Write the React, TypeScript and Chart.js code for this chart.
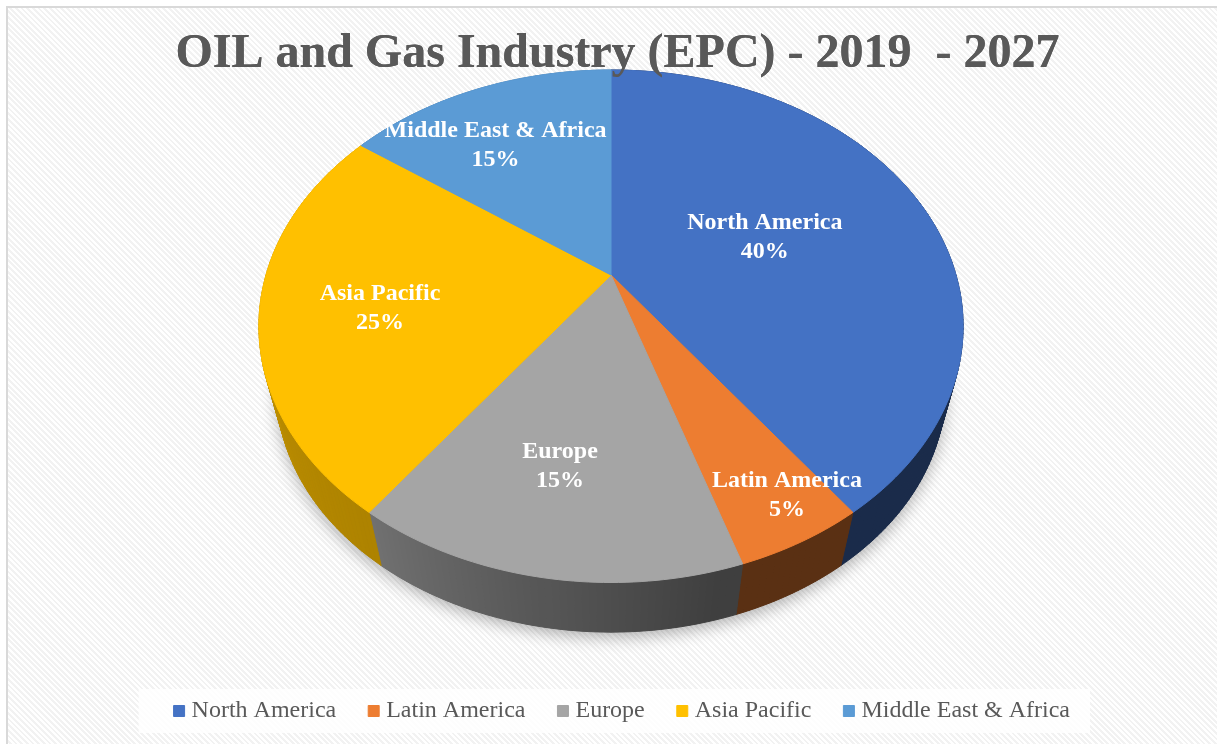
import React, { useEffect, useRef } from "react";
import { Chart, registerables } from "chart.js";

Chart.register(...registerables);

// ---------- data ----------
const categories = ["North America", "Latin America", "Europe", "Asia Pacific", "Middle East & Africa"];
const shareValues = [40, 5, 15, 25, 15];
const sliceColors = ["#4472c4", "#ed7d31", "#a5a5a5", "#ffc000", "#5b9bd5"];
const titleText = "OIL and Gas Industry (EPC) - 2019  - 2027";

// ---------- style / layout ----------
const labelRadius = [0.486, 0.873, 0.684, 0.665, 0.698];
const labelAngleFrac = [0.494, 0.35, 0.533, 0.474, 0.4];
const TILT = 0.2;
const HALF_W = 345;
const HALF_H = 246;
const CX_SHIFT = -6.5;
const WALL_SCALE = 0.95;
const WALL_DROP = 65;
const SERIF = "'Liberation Serif', 'Times New Roman', serif";

function hexToRgb(h: string) {
  const n = parseInt(h.slice(1), 16);
  return [(n >> 16) & 255, (n >> 8) & 255, n & 255];
}
function shade(hex: string, f: number) {
  const [r, g, b] = hexToRgb(hex);
  return `rgb(${Math.round(r * f)},${Math.round(g * f)},${Math.round(b * f)})`;
}
function wallLight(a: number) {
  let t = ((a + Math.PI / 2) * 180) / Math.PI;
  t = ((t % 360) + 360) % 360;
  if (t <= 165) return 0.38;
  if (t <= 216) return 0.38 + ((t - 165) / 51) * 0.3;
  if (t <= 280) return 0.68 + ((t - 216) / 64) * 0.1;
  return 0.78;
}

function geometry(chart: any) {
  const area = chart.chartArea;
  const cx = (area.left + area.right) / 2 + CX_SHIFT;
  const apexY = area.top + HALF_H / (1 + TILT);
  const proj = (u: number, v: number) => {
    const d = 1 - TILT * v;
    return { x: cx + (HALF_W * u) / d, y: apexY + (HALF_H * v) / d };
  };
  const wall = (q: { x: number; y: number }) => ({
    x: cx + (q.x - cx) * WALL_SCALE,
    y: apexY + (q.y - apexY) * WALL_SCALE + WALL_DROP,
  });
  return { proj, wall };
}

const pie3d = {
  id: "pie3d",
  beforeDraw(chart: any) {
    const boxes = chart.legend && chart.legend.legendHitBoxes;
    if (!boxes || !boxes.length) return;
    const ctx = chart.ctx;
    const first = boxes[0];
    const last = boxes[boxes.length - 1];
    ctx.save();
    ctx.fillStyle = "rgba(255,255,255,0.8)";
    const l = first.left - 40;
    const r = last.left + last.width + 20;
    ctx.fillRect(l, first.top - 10, r - l, first.height + 20);
    ctx.restore();
  },
  beforeDatasetsDraw(chart: any) {
    const ctx = chart.ctx;
    const meta = chart.getDatasetMeta(0);
    if (!meta.data.length) return;
    const { proj, wall } = geometry(chart);
    const colors = chart.data.datasets[0].backgroundColor as string[];

    // soft shadow under the pie
    ctx.save();
    ctx.shadowColor = "rgba(0,0,0,0.3)";
    ctx.shadowBlur = 16;
    ctx.shadowOffsetY = 5;
    ctx.fillStyle = "#777";
    ctx.beginPath();
    for (let i = 0; i <= 360; i++) {
      const a = (i * Math.PI) / 180;
      const q = wall(proj(Math.cos(a), Math.sin(a)));
      if (i === 0) ctx.moveTo(q.x, q.y);
      else ctx.lineTo(q.x, q.y);
    }
    ctx.closePath();
    ctx.fill();
    ctx.restore();

    // side walls
    ctx.save();
    ctx.lineWidth = 1;
    meta.data.forEach((el: any, idx: number) => {
      const s = el.startAngle;
      const e = el.endAngle;
      const steps = Math.max(2, Math.ceil((e - s) / (Math.PI / 180)));
      for (let k = 0; k < steps; k++) {
        const a0 = s + ((e - s) * k) / steps;
        const a1 = s + ((e - s) * (k + 1)) / steps;
        const t0 = proj(Math.cos(a0), Math.sin(a0));
        const t1 = proj(Math.cos(a1), Math.sin(a1));
        const b0 = wall(t0);
        const b1 = wall(t1);
        const col = shade(colors[idx], wallLight((a0 + a1) / 2));
        ctx.fillStyle = col;
        ctx.strokeStyle = col;
        ctx.beginPath();
        ctx.moveTo(t0.x, t0.y);
        ctx.lineTo(t1.x, t1.y);
        ctx.lineTo(b1.x, b1.y);
        ctx.lineTo(b0.x, b0.y);
        ctx.closePath();
        ctx.fill();
        ctx.stroke();
      }
    });
    ctx.restore();

    // project the library's own arc drawing onto the tilted disk
    const el0 = meta.data[0];
    const ox = el0.x;
    const oy = el0.y;
    const R = el0.outerRadius;
    const map = (x: number, y: number) => proj((x - ox) / R, (y - oy) / R);
    const P: any = CanvasRenderingContext2D.prototype;
    const c: any = ctx;
    c.moveTo = (x: number, y: number) => {
      const q = map(x, y);
      P.moveTo.call(ctx, q.x, q.y);
    };
    c.lineTo = (x: number, y: number) => {
      const q = map(x, y);
      P.lineTo.call(ctx, q.x, q.y);
    };
    c.arc = (x: number, y: number, r: number, a0: number, a1: number, ccw?: boolean) => {
      if (!(r > 0) || !isFinite(a0) || !isFinite(a1)) {
        const q = map(x, y);
        P.lineTo.call(ctx, q.x, q.y);
        return;
      }
      const TAU = Math.PI * 2;
      let sweep = ccw ? a0 - a1 : a1 - a0;
      if (sweep >= TAU) sweep = TAU;
      else {
        sweep = sweep % TAU;
        if (sweep < 0) sweep += TAU;
      }
      if (ccw) sweep = -sweep;
      const n = Math.max(2, Math.ceil(Math.abs(sweep) / (Math.PI / 180)));
      for (let i = 0; i <= n; i++) {
        const a = a0 + (sweep * i) / n;
        const q = map(x + r * Math.cos(a), y + r * Math.sin(a));
        P.lineTo.call(ctx, q.x, q.y);
      }
    };
  },
  afterDatasetsDraw(chart: any) {
    const ctx = chart.ctx;
    const c: any = ctx;
    delete c.moveTo;
    delete c.lineTo;
    delete c.arc;
    const meta = chart.getDatasetMeta(0);
    if (!meta.data.length) return;
    const { proj } = geometry(chart);
    const vals = chart.data.datasets[0].data as number[];
    const total = vals.reduce((a: number, b: number) => a + b, 0);
    ctx.save();
    ctx.fillStyle = "#ffffff";
    ctx.font = `bold 24px ${SERIF}`;
    ctx.textAlign = "center";
    ctx.textBaseline = "middle";
    meta.data.forEach((el: any, i: number) => {
      const ang = el.startAngle + (el.endAngle - el.startAngle) * labelAngleFrac[i];
      const f = labelRadius[i];
      const q = proj(f * Math.cos(ang), f * Math.sin(ang));
      const pct = Math.round((vals[i] / total) * 100) + "%";
      ctx.fillText(chart.data.labels[i], q.x, q.y - 14.5);
      ctx.fillText(pct, q.x, q.y + 14.5);
    });
    ctx.restore();
    if (chart.titleBlock) chart.titleBlock.draw(chart.chartArea);
  },
};

export default function App() {
  const ref = useRef<HTMLCanvasElement | null>(null);
  useEffect(() => {
    if (!ref.current) return;
    const chart = new Chart(ref.current, {
      type: "pie",
      data: {
        labels: categories,
        datasets: [
          {
            data: shareValues,
            backgroundColor: sliceColors,
            borderColor: sliceColors,
            borderWidth: 1,
          },
        ],
      },
      options: {
        responsive: false,
        animation: false,
        devicePixelRatio: 1,
        layout: { padding: { left: 120, right: 110, top: 0, bottom: 0 } },
        plugins: {
          title: {
            display: true,
            text: titleText,
            color: "#595959",
            font: { family: SERIF, size: 48, weight: "bold" },
            padding: { top: 18.2, bottom: -13.8 },
          },
          legend: {
            display: true,
            position: "bottom",
            align: "end",
            labels: {
              usePointStyle: true,
              pointStyle: "rect",
              boxWidth: 1,
              boxHeight: 11,
              padding: 37,
              color: "#595959",
              font: { family: SERIF, size: 24 },
            },
          },
          tooltip: { enabled: false },
        },
      } as any,
      plugins: [pie3d as any],
    });
    return () => chart.destroy();
  }, []);

  return (
    <div
      style={{
        position: "fixed",
        left: 0,
        top: 0,
        width: 1217,
        height: 744,
        overflow: "hidden",
        background: "#ffffff",
      }}
    >
      <div
        style={{
          position: "absolute",
          left: 6,
          top: 6,
          width: 1240,
          height: 760,
          borderLeft: "2px solid #d9d9d9",
          borderTop: "2px solid #d9d9d9",
          background:
            "repeating-linear-gradient(45deg, #ffffff 0px, #ffffff 2px, #f2f2f2 2px, #f2f2f2 4px)",
        }}
      />
      <canvas
        ref={ref}
        width={1209}
        height={725}
        style={{ position: "absolute", left: 8, top: 8, width: 1209, height: 725, display: "block" }}
      />
    </div>
  );
}
